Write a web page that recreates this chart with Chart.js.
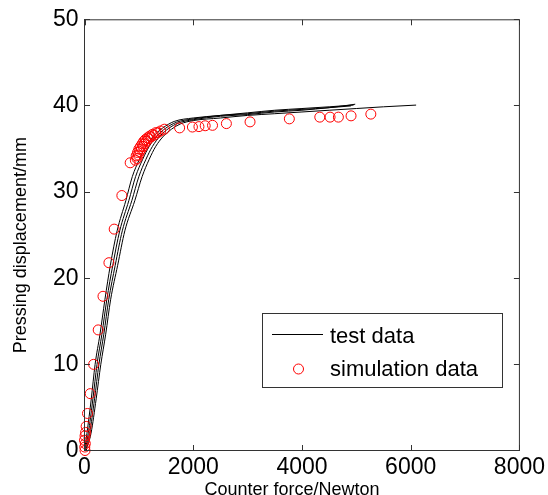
<!DOCTYPE html>
<html><head><meta charset="utf-8">
<script src="https://cdn.jsdelivr.net/npm/chart.js@4/dist/chart.umd.min.js"></script>
<style>html,body{margin:0;padding:0;background:#fff}#wrap{width:548px;height:495px}</style>
</head><body><div id="wrap"><canvas id="c" width="548" height="495"></canvas></div>
<script>
const xTicks = [0, 2000, 4000, 6000, 8000];
const yTicks = [0, 10, 20, 30, 40, 50];

const test1X = [0,45,125,195,285,375,475,600,760,880,1010,1130,1270,1430,1650,2000,2500,3000,3500,4000,4500,4950];
const test1Y = [0,2,6,10,13.5,17.5,21.5,25.5,29,31.8,33.8,35.3,36.5,37.4,38.2,38.6,38.9,39.2,39.5,39.7,39.9,40.1];
const test2X = [10,70,155,230,320,410,520,648,815,940,1070,1190,1330,1490,1690,2000,2500,3000,3500,4000,4500,4980];
const test2Y = [0,2,6,10,13.5,17.5,21.5,25.5,29,31.8,33.8,35.3,36.5,37.4,38.1,38.5,38.9,39.1,39.4,39.6,39.8,40.2];
const test3X = [20,95,185,265,355,445,565,695,870,1000,1130,1250,1390,1550,1720,2000,2500,3000,3500,4000,4500,4900];
const test3Y = [0,2,6,10,13.5,17.5,21.5,25.5,29,31.8,33.8,35.3,36.5,37.4,38.0,38.4,38.8,39.0,39.3,39.5,39.8,40.0];
const test4X = [30,120,215,300,390,480,610,742,925,1060,1190,1310,1440,1600,1760,2000,2500,3000,3500,4000,4500,5000,5500,6100];
const test4Y = [0,2,6,10,13.5,17.5,21.5,25.5,29,31.8,33.8,35.3,36.4,37.3,37.9,38.3,38.6,38.9,39.1,39.3,39.5,39.7,39.9,40.1];

const simX = [10,5,15,0,10,20,30,55,105,168,252,340,449,546,687,840,935,950,965,975,990,1000,1015,1030,1045,1060,1075,1090,1105,1120,1140,1160,1180,1200,1225,1250,1280,1310,1350,1400,1470,1750,1985,2105,2220,2355,2610,3045,3768,4328,4517,4670,4903,5267];
const simY = [0,0.4,0.8,1.2,1.7,2.1,2.8,4.3,6.6,10.0,14.0,17.9,21.8,25.7,29.6,33.4,33.7,34.2,33.9,34.6,34.3,35.0,34.7,35.3,35.0,35.6,35.3,35.9,35.6,36.1,35.9,36.3,36.2,36.5,36.4,36.7,36.6,36.9,36.9,37.1,37.3,37.45,37.55,37.6,37.7,37.75,37.95,38.15,38.5,38.7,38.7,38.7,38.85,39.05];

const legendLabels = ['test data', 'simulation data'];
const FONT = "'Liberation Sans', Arial, Helvetica, sans-serif";

const pts = (X, Y) => X.map((x, i) => ({x: x, y: Y[i]}));
const lineDs = (X, Y) => ({
  label: legendLabels[0], data: pts(X, Y), showLine: true, pointRadius: 0,
  borderColor: '#000', borderWidth: 1, fill: false, cubicInterpolationMode: 'monotone'
});

const boxPlugin = {
  id: 'box',
  afterDatasetsDraw(chart) {
    const {ctx, chartArea: a, scales: {x, y}} = chart;
    ctx.save();
    ctx.strokeStyle = '#333';
    ctx.lineWidth = 1;
    ctx.strokeRect(a.left, a.top, a.right - a.left, a.bottom - a.top);
    const L = 5.5;
    ctx.beginPath();
    x.ticks.forEach(t => {
      const px = Math.round(x.getPixelForValue(t.value)) + 0.5;
      ctx.moveTo(px, a.bottom); ctx.lineTo(px, a.bottom - L);
      ctx.moveTo(px, a.top); ctx.lineTo(px, a.top + L);
    });
    y.ticks.forEach(t => {
      const py = Math.round(y.getPixelForValue(t.value) - 0.5) + 0.5;
      ctx.moveTo(a.left, py); ctx.lineTo(a.left + L, py);
      ctx.moveTo(a.right, py); ctx.lineTo(a.right - L, py);
    });
    ctx.stroke();
    ctx.restore();
  }
};

const legendPlugin = {
  id: 'boxLegend',
  afterDraw(chart) {
    const ctx = chart.ctx;
    ctx.save();
    ctx.fillStyle = '#fff';
    ctx.fillRect(262.5, 313.5, 240, 74);
    ctx.strokeStyle = '#333';
    ctx.lineWidth = 1;
    ctx.strokeRect(262.5, 313.5, 240, 74);
    ctx.strokeStyle = '#000';
    ctx.beginPath(); ctx.moveTo(272, 334.5); ctx.lineTo(323, 334.5); ctx.stroke();
    ctx.strokeStyle = 'red';
    ctx.beginPath(); ctx.arc(298.5, 369, 5, 0, Math.PI * 2); ctx.stroke();
    ctx.fillStyle = '#000';
    ctx.font = '22px ' + FONT;
    ctx.textBaseline = 'middle';
    ctx.textAlign = 'left';
    ctx.fillText(legendLabels[0], 330, 337);
    ctx.fillText(legendLabels[1], 330, 370);
    ctx.restore();
  }
};

new Chart(document.getElementById('c'), {
  type: 'scatter',
  data: {
    datasets: [
      {label: legendLabels[1], data: pts(simX, simY), showLine: false, pointStyle: 'circle',
       pointRadius: 5, pointBorderWidth: 1, pointBorderColor: 'red', pointBackgroundColor: 'rgba(0,0,0,0)', clip: false},
      lineDs(test1X, test1Y), lineDs(test2X, test2Y), lineDs(test3X, test3Y), lineDs(test4X, test4Y)
    ]
  },
  options: {
    responsive: false, animation: false, devicePixelRatio: 1,
    layout: {padding: {top: 19.5, right: 28.5, left: 0, bottom: 0}},
    plugins: {legend: {display: false}, tooltip: {enabled: false}},
    scales: {
      x: {
        type: 'linear', min: 0, max: 8000,
        afterBuildTicks: s => { s.ticks = xTicks.map(v => ({value: v})); },
        afterFit: s => { s.height = 44.5; },
        ticks: {font: {family: FONT, size: 23}, color: '#000', padding: 3, maxRotation: 0,
                callback: v => String(v)},
        grid: {display: false, drawTicks: false},
        border: {display: true, color: '#333'},
        title: {display: true, text: 'Counter force/Newton    ', color: '#000',
                font: {family: FONT, size: 18}, padding: {top: 0, bottom: -6}}
      },
      y: {
        type: 'linear', min: 0, max: 50,
        afterBuildTicks: s => { s.ticks = yTicks.map(v => ({value: v})); },
        afterFit: s => { s.width = 84.5; },
        ticks: {font: {family: FONT, size: 23}, color: '#000', padding: 6,
                callback: v => String(v)},
        grid: {display: false, drawTicks: false},
        border: {display: true, color: '#333'},
        title: {display: true, text: 'Pressing displacement/mm    ', color: '#000',
                font: {family: FONT, size: 18}, padding: {top: 10, bottom: 0}}
      }
    }
  },
  plugins: [boxPlugin, legendPlugin]
});
</script></body></html>
